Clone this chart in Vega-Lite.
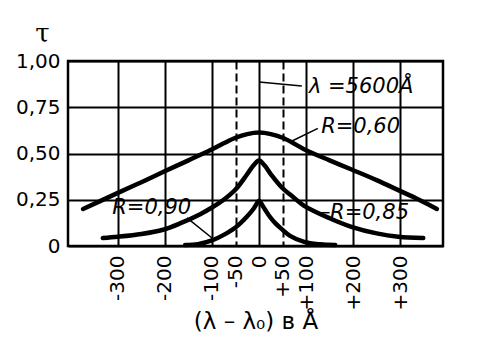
{
  "$schema": "https://vega.github.io/schema/vega-lite/v6.json",
  "width": 375,
  "height": 185,
  "autosize": {"type": "none"},
  "padding": {"left": 68, "top": 61, "right": 57, "bottom": 106},
  "background": "white",
  "config": {"view": {"stroke": "black", "strokeWidth": 2.5}, "font": "DejaVu Sans"},
  "datasets": {
    "curves": [
      {"R": "0.60", "x": -374, "t": 0.20},
      {"R": "0.60", "x": -300, "t": 0.287},
      {"R": "0.60", "x": -250, "t": 0.345},
      {"R": "0.60", "x": -204, "t": 0.40},
      {"R": "0.60", "x": -150, "t": 0.463},
      {"R": "0.60", "x": -102, "t": 0.52},
      {"R": "0.60", "x": -75, "t": 0.555},
      {"R": "0.60", "x": -50, "t": 0.585},
      {"R": "0.60", "x": -25, "t": 0.605},
      {"R": "0.60", "x": 0, "t": 0.613},
      {"R": "0.60", "x": 25, "t": 0.605},
      {"R": "0.60", "x": 50, "t": 0.585},
      {"R": "0.60", "x": 75, "t": 0.553},
      {"R": "0.60", "x": 100, "t": 0.517},
      {"R": "0.60", "x": 150, "t": 0.463},
      {"R": "0.60", "x": 198, "t": 0.412},
      {"R": "0.60", "x": 250, "t": 0.356},
      {"R": "0.60", "x": 296, "t": 0.302},
      {"R": "0.60", "x": 340, "t": 0.25},
      {"R": "0.60", "x": 378, "t": 0.20},
      {"R": "0.85", "x": -332, "t": 0.043},
      {"R": "0.85", "x": -300, "t": 0.05},
      {"R": "0.85", "x": -250, "t": 0.065},
      {"R": "0.85", "x": -204, "t": 0.088},
      {"R": "0.85", "x": -168, "t": 0.122},
      {"R": "0.85", "x": -125, "t": 0.172},
      {"R": "0.85", "x": -100, "t": 0.208},
      {"R": "0.85", "x": -75, "t": 0.25},
      {"R": "0.85", "x": -50, "t": 0.305},
      {"R": "0.85", "x": -26, "t": 0.385},
      {"R": "0.85", "x": -12, "t": 0.435},
      {"R": "0.85", "x": 0, "t": 0.462},
      {"R": "0.85", "x": 12, "t": 0.435},
      {"R": "0.85", "x": 26, "t": 0.385},
      {"R": "0.85", "x": 49, "t": 0.315},
      {"R": "0.85", "x": 70, "t": 0.27},
      {"R": "0.85", "x": 96, "t": 0.217},
      {"R": "0.85", "x": 150, "t": 0.15},
      {"R": "0.85", "x": 198, "t": 0.102},
      {"R": "0.85", "x": 250, "t": 0.068},
      {"R": "0.85", "x": 296, "t": 0.05},
      {"R": "0.85", "x": 349, "t": 0.043},
      {"R": "0.90", "x": -157, "t": 0.005},
      {"R": "0.90", "x": -130, "t": 0.01},
      {"R": "0.90", "x": -100, "t": 0.03},
      {"R": "0.90", "x": -75, "t": 0.06},
      {"R": "0.90", "x": -50, "t": 0.10},
      {"R": "0.90", "x": -26, "t": 0.158},
      {"R": "0.90", "x": -12, "t": 0.2},
      {"R": "0.90", "x": -4, "t": 0.232},
      {"R": "0.90", "x": 0, "t": 0.245},
      {"R": "0.90", "x": 4, "t": 0.232},
      {"R": "0.90", "x": 12, "t": 0.2},
      {"R": "0.90", "x": 23, "t": 0.158},
      {"R": "0.90", "x": 35, "t": 0.122},
      {"R": "0.90", "x": 49, "t": 0.09},
      {"R": "0.90", "x": 66, "t": 0.055},
      {"R": "0.90", "x": 96, "t": 0.022},
      {"R": "0.90", "x": 130, "t": 0.009},
      {"R": "0.90", "x": 162, "t": 0.005}
    ],
    "leaders": [
      {"x": 0, "t": 0.886, "x2": 91, "t2": 0.865},
      {"x": 68, "t": 0.565, "x2": 125, "t2": 0.636},
      {"x": 127, "t": 0.18, "x2": 150, "t2": 0.18},
      {"x": -153, "t": 0.152, "x2": -96, "t2": 0.035}
    ],
    "labels": [
      {"x": 106, "t": 0.862, "text": "λ =5600Å"},
      {"x": 132, "t": 0.641, "text": "R=0,60"},
      {"x": 151, "t": 0.18, "text": "R=0,85"},
      {"x": -312, "t": 0.207, "text": "R=0,90"}
    ]
  },
  "layer": [
    {
      "data": {"name": "curves"},
      "mark": {"type": "line", "interpolate": "catmull-rom", "strokeWidth": 4.5, "color": "black", "strokeCap": "round"},
      "encoding": {
        "x": {
          "field": "x", "type": "quantitative",
          "scale": {"domain": [-406, 391], "nice": false, "zero": false},
          "axis": {
            "values": [-300, -200, -100, -50, 0, 50, 100, 200, 300],
            "labelExpr": "datum.value > 0 ? '+' + datum.value : (datum.value < 0 ? '-' + abs(datum.value) : '0')",
            "labelAngle": 270, "labelFontSize": 20, "labelColor": "black", "labelPadding": 9,
            "labelOverlap": false, "labelFlush": false,
            "ticks": false, "domain": false,
            "grid": true, "gridColor": "black", "gridWidth": 2, "gridOpacity": 1,
            "gridDash": {"condition": {"test": "abs(datum.value) == 50", "value": [8, 4]}, "value": []},
            "title": "(λ – λ₀)  в  Å", "titleFontSize": 23, "titleFontWeight": "normal", "titleColor": "black",
            "titleY": 64, "titleBaseline": "top"
          }
        },
        "y": {
          "field": "t", "type": "quantitative",
          "scale": {"domain": [0, 1], "nice": false},
          "axis": {
            "values": [0, 0.25, 0.5, 0.75, 1],
            "labelExpr": "datum.value == 0 ? '0' : replace(format(datum.value, '.2f'), '.', ',')",
            "labelFontSize": 20, "labelColor": "black", "labelPadding": 8,
            "ticks": false, "domain": false,
            "grid": true, "gridColor": "black", "gridWidth": 2, "gridOpacity": 1,
            "title": "τ", "titleAngle": 0, "titleX": -26, "titleY": -28, "titleFontSize": 26,
            "titleFont": "DejaVu Serif", "titleFontWeight": "normal", "titleColor": "black",
            "titleAlign": "center", "titleBaseline": "middle"
          }
        },
        "detail": {"field": "R", "type": "nominal"}
      }
    },
    {
      "data": {"name": "leaders"},
      "mark": {"type": "rule", "strokeWidth": 1.5, "color": "black"},
      "encoding": {
        "x": {"field": "x", "type": "quantitative"},
        "x2": {"field": "x2"},
        "y": {"field": "t", "type": "quantitative"},
        "y2": {"field": "t2"}
      }
    },
    {
      "data": {"name": "labels"},
      "mark": {"type": "text", "align": "left", "baseline": "middle", "fontStyle": "italic", "fontSize": 21, "font": "DejaVu Sans", "color": "black"},
      "encoding": {
        "x": {"field": "x", "type": "quantitative"},
        "y": {"field": "t", "type": "quantitative"},
        "text": {"field": "text"}
      }
    }
  ]
}
